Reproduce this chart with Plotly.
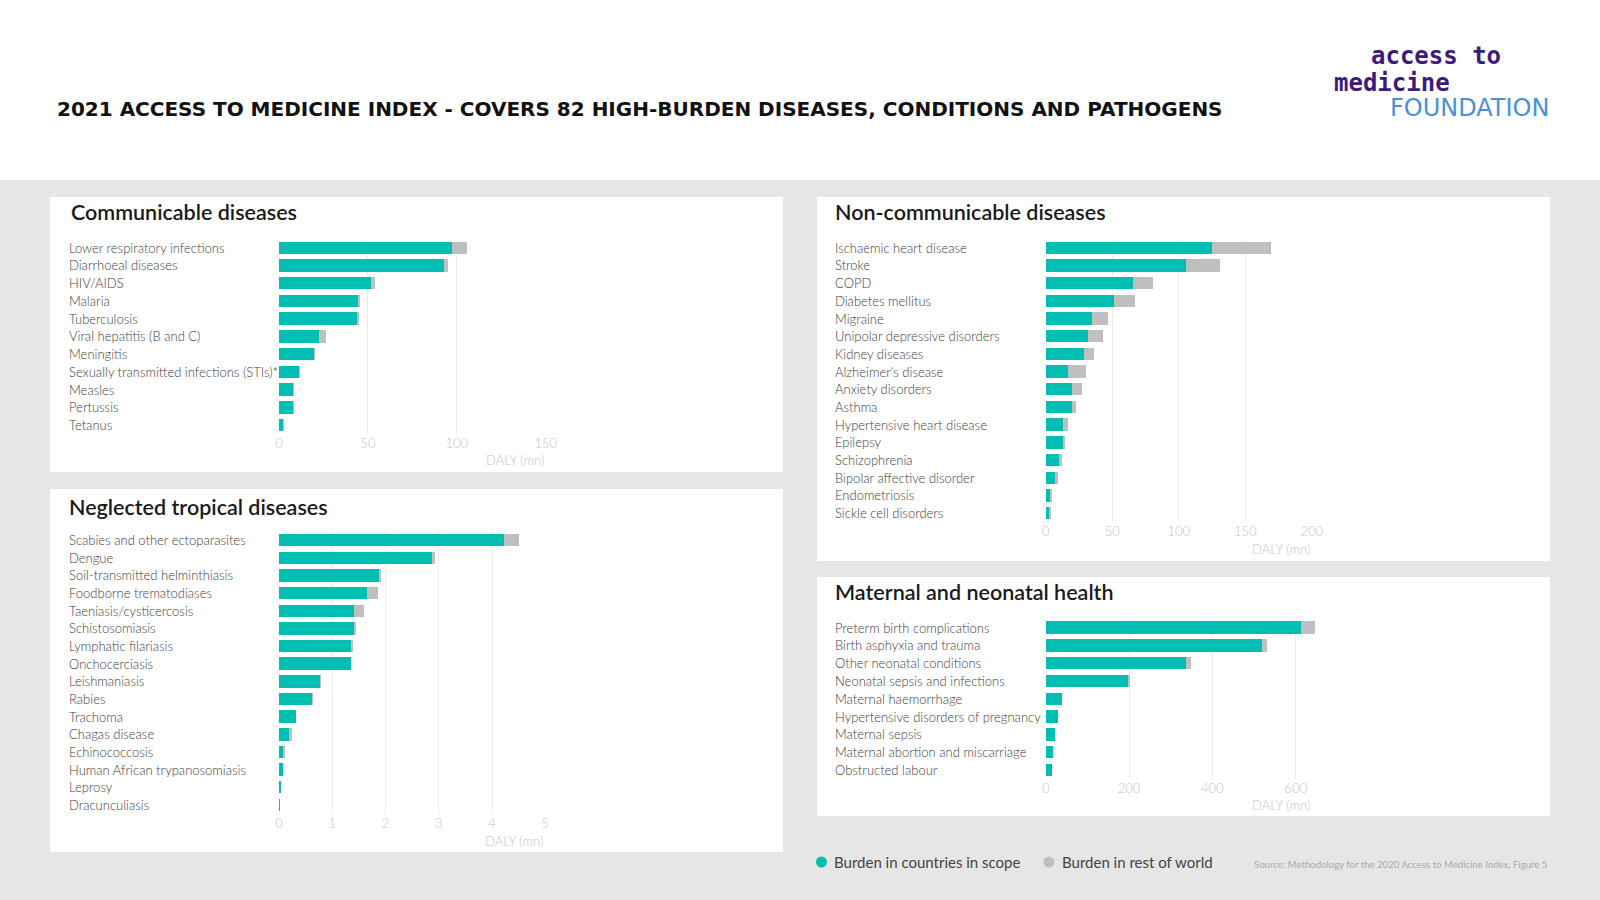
import plotly.graph_objects as go

W, H = 1600, 900
TEAL = "#00bfb2"
GREY = "#bfbfbf"
BG = "#e6e6e6"

# ---------------- data ----------------
comm_labels = ["Lower respiratory infections", "Diarrhoeal diseases", "HIV/AIDS", "Malaria",
               "Tuberculosis", "Viral hepatitis (B and C)", "Meningitis",
               "Sexually transmitted infections (STIs)*", "Measles", "Pertussis", "Tetanus"]
comm_scope = [97.5, 93.0, 51.8, 44.8, 43.9, 22.3, 20.0, 11.3, 8.3, 7.9, 2.6]
comm_rest = [8.5, 2.0, 2.4, 0.2, 0.9, 4.0, 0.2, 0.2, 0.1, 0.1, 0.05]
comm_ticks = [0, 50, 100, 150]

ntd_labels = ["Scabies and other ectoparasites", "Dengue", "Soil-transmitted helminthiasis",
              "Foodborne trematodiases", "Taeniasis/cysticercosis", "Schistosomiasis",
              "Lymphatic filariasis", "Onchocerciasis", "Leishmaniasis", "Rabies", "Trachoma",
              "Chagas disease", "Echinococcosis", "Human African trypanosomiasis", "Leprosy",
              "Dracunculiasis"]
ntd_scope = [4.23, 2.89, 1.89, 1.65, 1.40, 1.42, 1.37, 1.35, 0.77, 0.63, 0.31, 0.19, 0.09, 0.08, 0.035, 0.004]
ntd_rest = [0.27, 0.03, 0.03, 0.20, 0.20, 0.01, 0.005, 0.0, 0.005, 0.003, 0.0, 0.05, 0.01, 0.0, 0.0, 0.0]
ntd_ticks = [0, 1, 2, 3, 4, 5]

ncd_labels = ["Ischaemic heart disease", "Stroke", "COPD", "Diabetes mellitus", "Migraine",
              "Unipolar depressive disorders", "Kidney diseases", "Alzheimer's disease",
              "Anxiety disorders", "Asthma", "Hypertensive heart disease", "Epilepsy",
              "Schizophrenia", "Bipolar affective disorder", "Endometriosis", "Sickle cell disorders"]
ncd_scope = [125.3, 105.3, 65.5, 51.5, 34.8, 31.8, 28.8, 17.0, 19.5, 19.5, 13.3, 13.0, 9.8, 7.0, 3.3, 3.0]
ncd_rest = [44.0, 25.7, 15.5, 16.0, 12.2, 11.2, 7.2, 13.5, 7.5, 3.3, 3.2, 1.8, 2.7, 2.3, 0.7, 0.3]
ncd_ticks = [0, 50, 100, 150, 200]

mat_labels = ["Preterm birth complications", "Birth asphyxia and trauma", "Other neonatal conditions",
              "Neonatal sepsis and infections", "Maternal haemorrhage",
              "Hypertensive disorders of pregnancy", "Maternal sepsis",
              "Maternal abortion and miscarriage", "Obstructed labour"]
mat_scope = [612, 519, 337, 198, 38, 30, 22, 18, 14]
mat_rest = [35, 13, 11, 4, 0, 0, 0, 0, 0]
mat_ticks = [0, 200, 400, 600]

legend_names = ["Burden in countries in scope", "Burden in rest of world"]
axis_title = "DALY (mn)"
main_title = "2021 ACCESS TO MEDICINE INDEX - COVERS 82 HIGH-BURDEN DISEASES, CONDITIONS AND PATHOGENS"
source_text = "Source: Methodology for the 2020 Access to Medicine Index, Figure 5"
logo_lines = ["access to", "medicine", "FOUNDATION"]


def fx(x):
    return x / W


def fy(y):
    return 1 - y / H


panels = [
    dict(title="Communicable diseases", labels=comm_labels, scope=comm_scope, rest=comm_rest,
         ticks=comm_ticks, box=(50, 197, 783, 472), px=(279, 545.7), pyr=(238.9, 433.9), xmax=150,
         tpos=(69, 211.5), lx=66.7, apos=(545.7, 460)),
    dict(title="Neglected tropical diseases", labels=ntd_labels, scope=ntd_scope, rest=ntd_rest,
         ticks=ntd_ticks, box=(50, 489, 783, 852), px=(279, 545.3), pyr=(531.2, 813.8), xmax=5,
         tpos=(66.5, 507), lx=66.7, apos=(545.3, 841)),
    dict(title="Non-communicable diseases", labels=ncd_labels, scope=ncd_scope, rest=ncd_rest,
         ticks=ncd_ticks, box=(817, 197, 1550, 561), px=(1045.7, 1311.7), pyr=(238.9, 522), xmax=200,
         tpos=(833, 211.5), lx=833.3, apos=(1311.7, 549)),
    dict(title="Maternal and neonatal health", labels=mat_labels, scope=mat_scope, rest=mat_rest,
         ticks=mat_ticks, box=(817, 577, 1550, 816), px=(1045.7, 1316.5), pyr=(618.8, 778.9), xmax=650,
         tpos=(833, 592), lx=833.3, apos=(1311.7, 805)),
]

fig = go.Figure()
# white header band (paper itself is the grey page background)
shapes = [dict(type="rect", xref="paper", yref="paper", x0=0, x1=1, y0=fy(180), y1=1,
               fillcolor="white", line_width=0, layer="below")]
annotations = []

label_font = dict(family="Lato", size=13, color="#404040", weight=300)
tick_font = dict(family="Lato", size=13, color="#c4c4c4", weight=300)

for i, p in enumerate(panels):
    n = i + 1
    xa = "x" if n == 1 else f"x{n}"
    ya = "y" if n == 1 else f"y{n}"
    fig.add_trace(go.Bar(y=p["labels"], x=p["scope"], orientation="h", marker_color=TEAL,
                         marker_line_width=0, width=0.7, name=legend_names[0], showlegend=False,
                         xaxis=xa, yaxis=ya, hoverinfo="skip"))
    fig.add_trace(go.Bar(y=p["labels"], x=p["rest"], orientation="h", marker_color=GREY,
                         marker_line_width=0, width=0.7, name=legend_names[1], showlegend=False,
                         xaxis=xa, yaxis=ya, hoverinfo="skip"))
    x0, y0, x1, y1 = p["box"]
    shapes.append(dict(type="rect", xref="paper", yref="paper", x0=fx(x0), x1=fx(x1),
                       y0=fy(y1), y1=fy(y0), fillcolor="white", line_width=0, layer="below"))
    xkey = "xaxis" if n == 1 else f"xaxis{n}"
    ykey = "yaxis" if n == 1 else f"yaxis{n}"
    fig.update_layout(**{
        xkey: dict(domain=[fx(p["px"][0]), fx(p["px"][1])], range=[0, p["xmax"]],
                   anchor=ya, tickvals=p["ticks"], showgrid=True, gridcolor="#ebebeb",
                   gridwidth=1, zeroline=False, showline=False, ticks="", tickfont=tick_font,
                   fixedrange=True, automargin=False),
        ykey: dict(domain=[fy(p["pyr"][1]), fy(p["pyr"][0])], anchor=xa, type="category",
                   categoryorder="array", categoryarray=p["labels"],
                   range=[len(p["labels"]) - 0.5, -0.5], showticklabels=False, showgrid=False,
                   zeroline=False, showline=False, ticks="", fixedrange=True, automargin=False),
    })
    for lab in p["labels"]:
        annotations.append(dict(xref="paper", yref=ya, x=fx(p["lx"]), y=lab, text=lab,
                                showarrow=False, xanchor="left", yanchor="middle", font=label_font))
    annotations.append(dict(xref="paper", yref="paper", x=fx(p["tpos"][0]), y=fy(p["tpos"][1]),
                            text=p["title"], showarrow=False, xanchor="left", yanchor="middle",
                            font=dict(family="Lato", size=21.5, color="#1a1a1a", weight=600)))
    annotations.append(dict(xref="paper", yref="paper", x=fx(p["apos"][0]), y=fy(p["apos"][1]),
                            text=axis_title, showarrow=False, xanchor="right", yanchor="middle",
                            font=tick_font))

# main title
annotations.append(dict(xref="paper", yref="paper", x=fx(55), y=fy(109), text=main_title,
                        showarrow=False, xanchor="left", yanchor="middle",
                        font=dict(family="DejaVu Sans", size=20, color="#111111", weight=700)))

# logo
annotations += [
    dict(xref="paper", yref="paper", x=fx(1369), y=fy(56), text=logo_lines[0], showarrow=False,
         xanchor="left", yanchor="middle",
         font=dict(family="DejaVu Sans Mono", size=24, color="#3d1a7e", weight=700)),
    dict(xref="paper", yref="paper", x=fx(1332), y=fy(82.5), text=logo_lines[1], showarrow=False,
         xanchor="left", yanchor="middle",
         font=dict(family="DejaVu Sans Mono", size=24, color="#3d1a7e", weight=700)),
    dict(xref="paper", yref="paper", x=fx(1551), y=fy(108.5), text=logo_lines[2], showarrow=False,
         xanchor="right", yanchor="middle",
         font=dict(family="DejaVu Sans", size=24, color="#4a90d9")),
]

# legend
r = 5.5
for cx, col, txt in [(821.5, TEAL, legend_names[0]), (1049, GREY, legend_names[1])]:
    shapes.append(dict(type="circle", xref="paper", yref="paper", x0=fx(cx - r), x1=fx(cx + r),
                       y0=fy(862 + r), y1=fy(862 - r), fillcolor=col, line_width=0))
    annotations.append(dict(xref="paper", yref="paper", x=fx(cx + 11), y=fy(862), text=txt,
                            showarrow=False, xanchor="left", yanchor="middle",
                            font=dict(family="Lato", size=15, color="#444444")))

annotations.append(dict(xref="paper", yref="paper", x=fx(1549), y=fy(864), text=source_text,
                        showarrow=False, xanchor="right", yanchor="middle",
                        font=dict(family="Lato", size=9.6, color="#aaaaaa")))

fig.update_layout(template="none", width=W, height=H, autosize=False,
                  margin=dict(l=0, r=0, t=0, b=0, pad=0), barmode="stack",
                  paper_bgcolor=BG, plot_bgcolor="rgba(0,0,0,0)", showlegend=False,
                  shapes=shapes, annotations=annotations, bargap=0.3)

fig.write_html("out.html", config={"displayModeBar": False},
               post_script="document.body.style.margin='0px';document.body.style.overflow='hidden';"
                           "document.documentElement.style.background="
                           "'linear-gradient(#ffffff 0px, #ffffff 180px, #e6e6e6 180px)';")
